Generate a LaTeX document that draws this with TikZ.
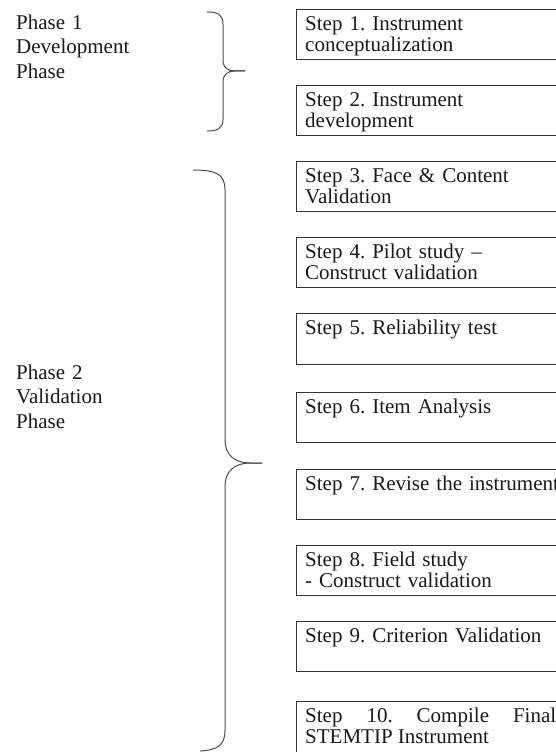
\documentclass[tikz,border=0pt]{standalone}
\usepackage{fontspec}
\setmainfont{Liberation Serif}
\frenchspacing
\newcommand{\firststrut}{\rule{0pt}{15pt}}
\begin{document}
\begin{tikzpicture}[x=1pt,y=-1pt,
  stepbox/.style={draw=black!80, line width=1pt, minimum width=280pt, minimum height=50pt, anchor=north west, inner sep=0pt},
  steptext/.style={anchor=north west, inner sep=0pt, text width=262pt, align=left, font=\fontsize{21}{21}\selectfont, text=black!90},
  phasetext/.style={anchor=north west, inner sep=0pt, text width=150pt, align=left, font=\fontsize{21}{24.5}\selectfont, text=black!90},
  bracestyle/.style={draw=black!70, line width=1pt}]
\useasboundingbox (0,0) rectangle (556,752);
\clip (0,0) rectangle (556,752);
% phase labels (first baseline = anchor + 15)
\node[phasetext] (p1) at (16,14) {\firststrut Phase 1\\Development\\Phase};
\node[phasetext] (p2) at (16,364) {\firststrut Phase 2\\Validation\\Phase};
% boxes
\node[stepbox] (s1) at (296,9) {};
\node[stepbox] (s2) at (296,85) {};
\node[stepbox] (s3) at (296,161) {};
\node[stepbox] (s4) at (296,237) {};
\node[stepbox, minimum height=51pt] (s5) at (296,313) {};
\node[stepbox] (s6) at (296,392) {};
\node[stepbox] (s7) at (296,469) {};
\node[stepbox] (s8) at (296,545) {};
\node[stepbox] (s9) at (296,621) {};
\node[stepbox, minimum height=80pt] (s10) at (296,701) {};
% texts (first baseline about 21.5 below box top)
\node[steptext] (t1) at ([shift={(9,6.5)}]s1.north west) {\firststrut Step 1. Instrument\\conceptualization};
\node[steptext] (t2) at ([shift={(9,6.5)}]s2.north west) {\firststrut Step 2. Instrument\\development};
\node[steptext] (t3) at ([shift={(9,6.5)}]s3.north west) {\firststrut Step 3. Face \& Content\\Validation};
\node[steptext] (t4) at ([shift={(9,6.5)}]s4.north west) {\firststrut Step 4. Pilot study --\\Construct validation};
\node[steptext] (t5) at ([shift={(9,6.5)}]s5.north west) {\firststrut Step 5. Reliability test};
\node[steptext] (t6) at ([shift={(9,6.5)}]s6.north west) {\firststrut Step 6. Item Analysis};
\node[steptext] (t7) at ([shift={(9,6.5)}]s7.north west) {\firststrut Step 7. Revise the instrument};
\node[steptext] (t8) at ([shift={(9,6.5)}]s8.north west) {\firststrut Step 8. Field study\\- Construct validation};
\node[steptext] (t9) at ([shift={(9,6.5)}]s9.north west) {\firststrut Step 9. Criterion Validation};
\node[steptext, text width=251pt, align=justify] (t10) at ([shift={(9,6.5)}]s10.north west) {\firststrut Step 10. Compile Final\linebreak STEMTIP Instrument};
% brace 1
\draw[bracestyle] (207,12) .. controls (217,12) and (223,14) .. (223,24) -- (223,60) .. controls (223,68) and (228,71) .. (235,71) -- (245,71);
\draw[bracestyle] (245,71) -- (235,71) .. controls (228,71) and (223,74) .. (223,82) -- (223,119) .. controls (223,129) and (217,131) .. (207,131);
% brace 2
\draw[bracestyle] (193,170) .. controls (216,170) and (225,174) .. (225,190) -- (225,440) .. controls (225,455) and (235,463) .. (250,463) -- (262,463);
\draw[bracestyle] (262,463) -- (250,463) .. controls (235,463) and (225,471) .. (225,486) -- (225,730) .. controls (225,745) and (218,750) .. (200,751);
\end{tikzpicture}
\end{document}
